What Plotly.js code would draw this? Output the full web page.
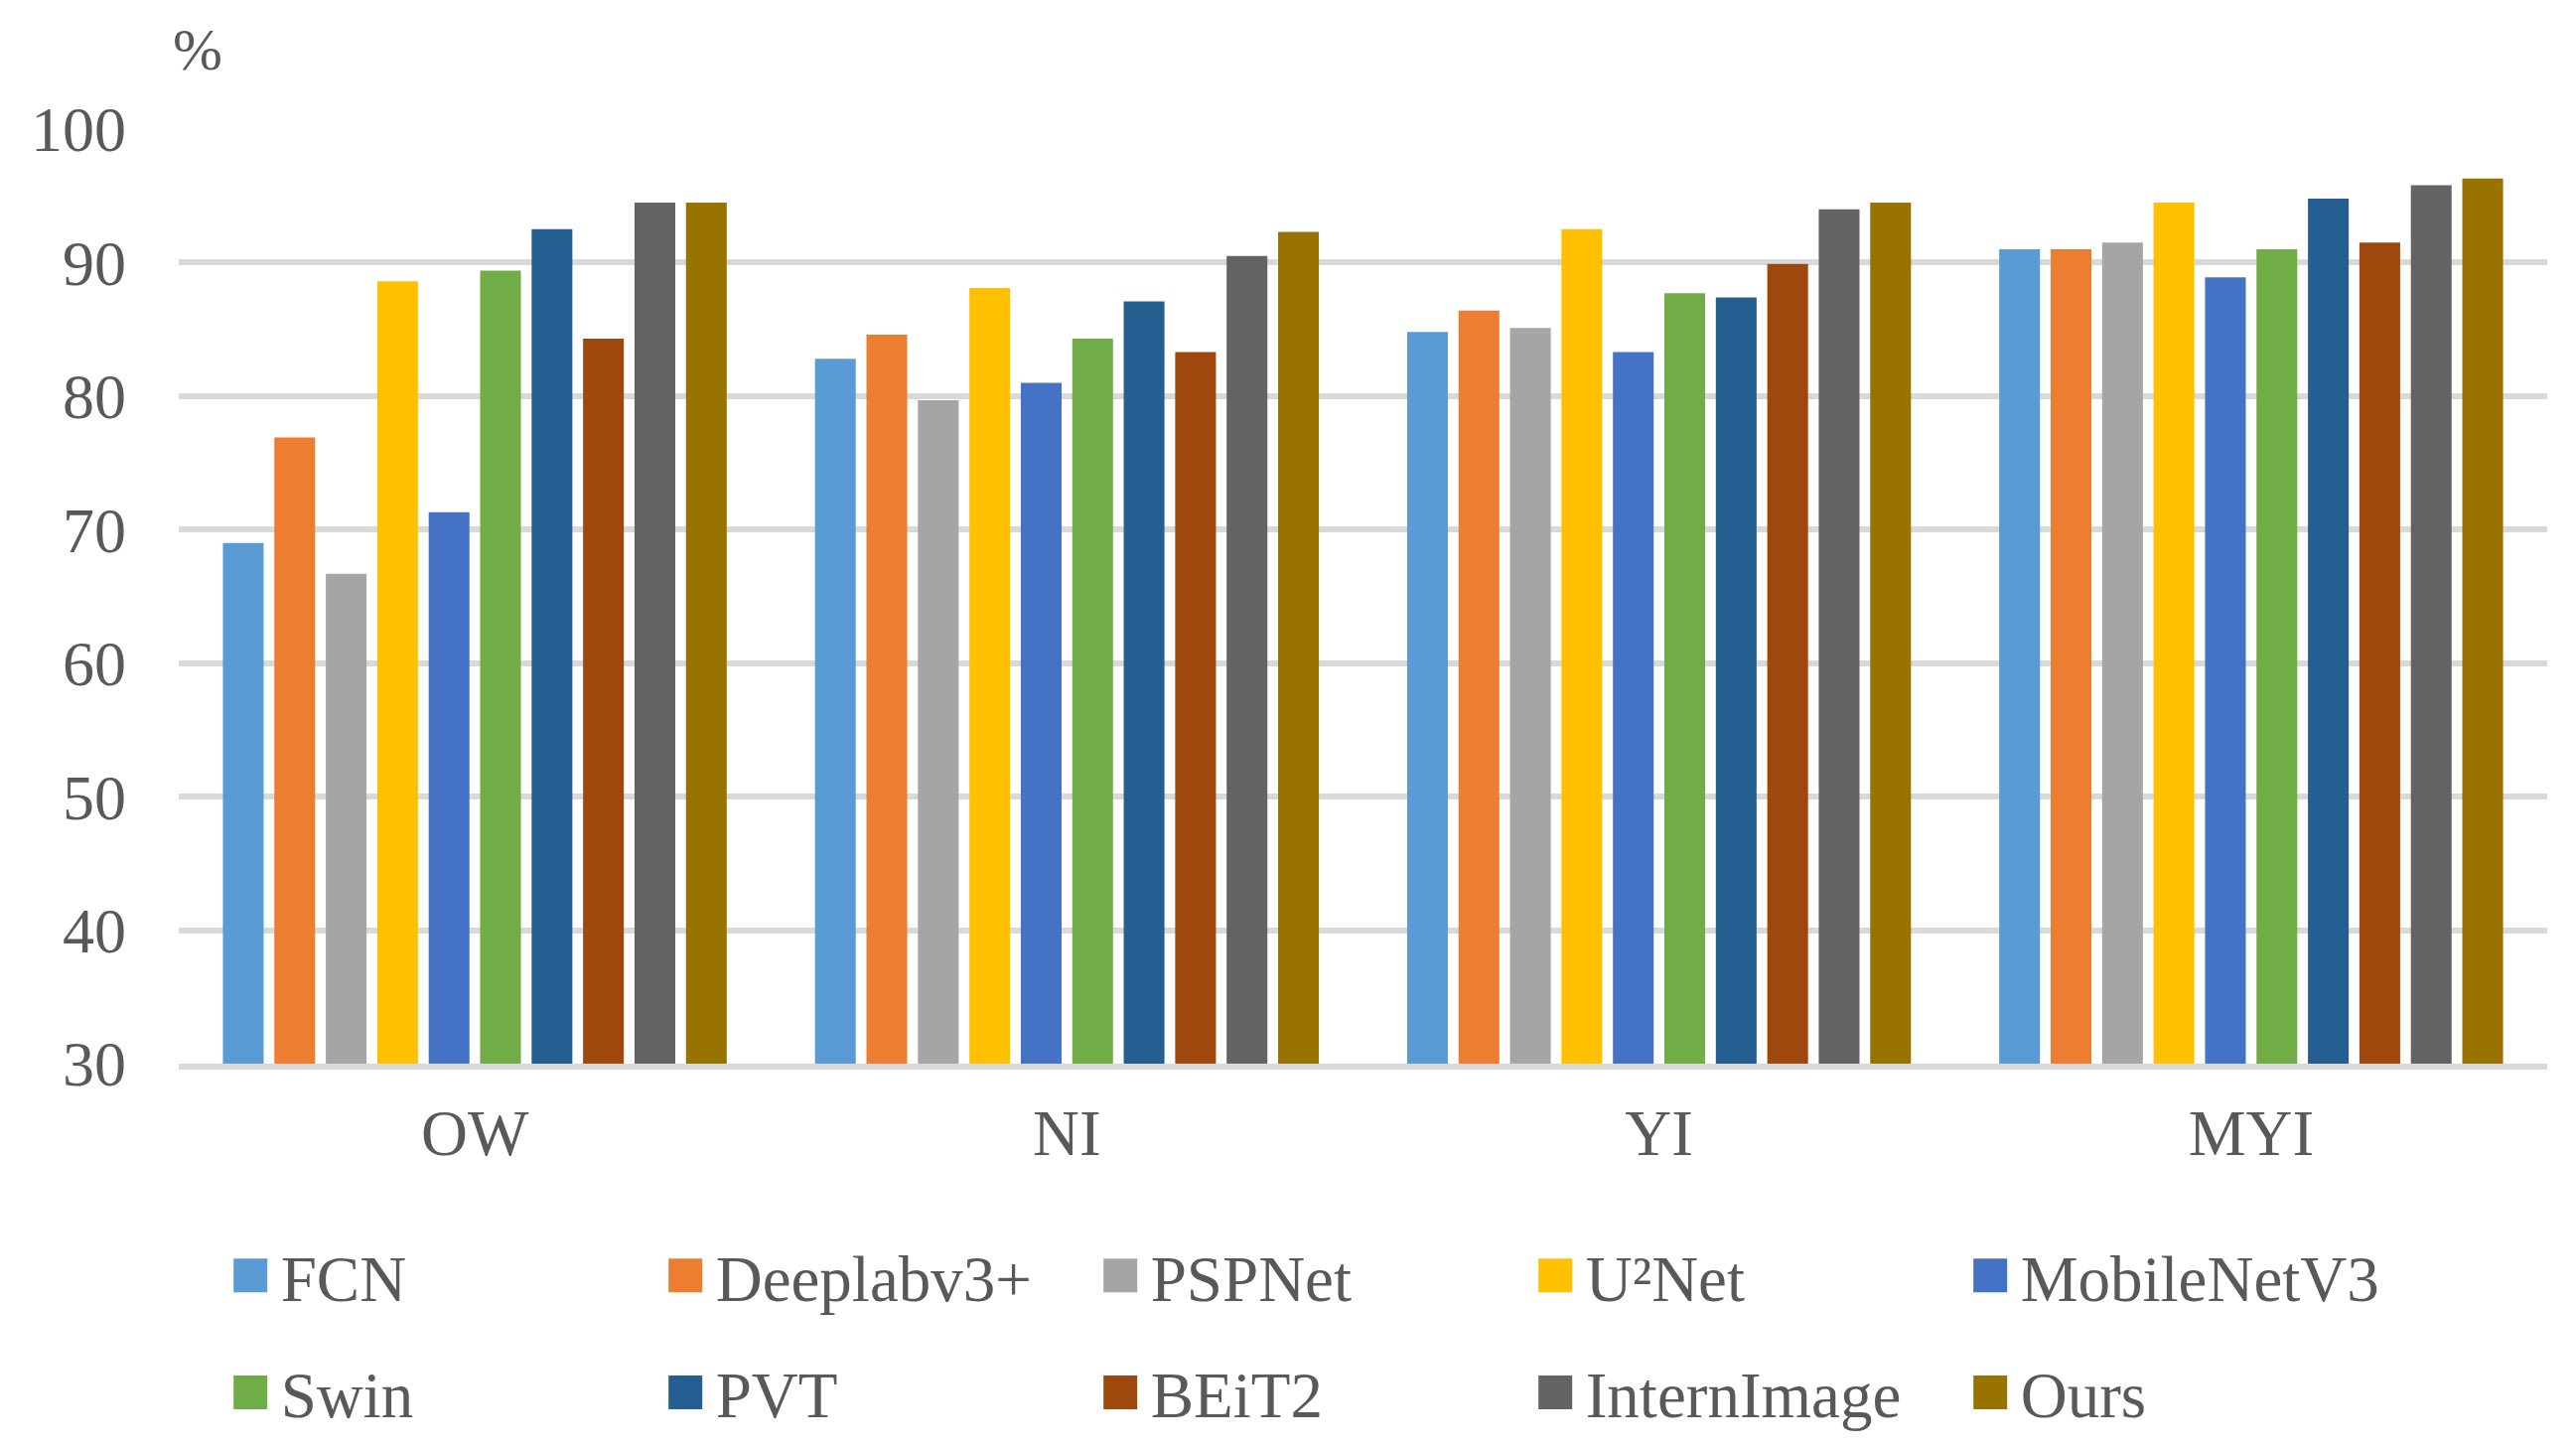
<!DOCTYPE html>
<html>
<head>
<meta charset="utf-8">
<script src="https://cdn.plot.ly/plotly-3.0.1.min.js"></script>
<style>html,body{margin:0;padding:0;background:#fff;}#chart{width:2594px;height:1458px;}</style>
</head>
<body>
<div id="chart"></div>
<script>
// ---- data ----
const categories = ['OW', 'NI', 'YI', 'MYI'];
const seriesNames = ['FCN', 'Deeplabv3+', 'PSPNet', 'U²Net', 'MobileNetV3', 'Swin', 'PVT', 'BEiT2', 'InternImage', 'Ours'];
const FCN         = [69.0, 82.8, 84.8, 91.0];
const Deeplabv3p  = [76.9, 84.6, 86.4, 91.0];
const PSPNet      = [66.7, 79.7, 85.1, 91.5];
const U2Net       = [88.6, 88.1, 92.5, 94.5];
const MobileNetV3 = [71.3, 81.0, 83.3, 88.9];
const Swin        = [89.4, 84.3, 87.7, 91.0];
const PVT         = [92.5, 87.1, 87.4, 94.8];
const BEiT2       = [84.3, 83.3, 89.9, 91.5];
const InternImage = [94.5, 90.5, 94.0, 95.8];
const Ours        = [94.5, 92.3, 94.5, 96.3];
const yTicks = [30, 40, 50, 60, 70, 80, 90, 100];

const seriesValues = [FCN, Deeplabv3p, PSPNet, U2Net, MobileNetV3, Swin, PVT, BEiT2, InternImage, Ours];
const colors = ['#5B9BD5', '#ED7D31', '#A5A5A5', '#FFC000', '#4472C4', '#70AD47', '#255E91', '#9E480E', '#636363', '#997300'];

const FONT = 'Liberation Serif, Times New Roman, serif';
const TXT = '#595959';

const traces = seriesNames.map((name, i) => ({
  type: 'bar',
  name: name,
  x: categories,
  y: seriesValues[i],
  marker: {color: colors[i], line: {width: 0}},
  legend: i < 5 ? 'legend' : 'legend2',
  hoverinfo: 'name+y'
}));

const legendCommon = {
  orientation: 'h',
  font: {family: FONT, size: 65, color: TXT},
  bgcolor: 'rgba(0,0,0,0)',
  entrywidth: 378,
  entrywidthmode: 'pixels',
  itemwidth: 45,
  itemclick: false,
  itemdoubleclick: false,
  traceorder: 'normal',
  xanchor: 'left',
  yanchor: 'middle',
  x: 0.020
};

const layout = {
  width: 2594,
  height: 1458,
  margin: {l: 180, r: 29, t: 129.5, b: 387, autoexpand: false},
  paper_bgcolor: '#ffffff',
  plot_bgcolor: '#ffffff',
  barmode: 'group',
  bargap: 0.131,
  bargroupgap: 0.208,
  font: {family: FONT, color: TXT, size: 65},
  showlegend: true,
  legend: Object.assign({}, legendCommon, {y: -0.227}),
  legend2: Object.assign({}, legendCommon, {y: -0.352}),
  xaxis: {
    type: 'category',
    categoryorder: 'array',
    categoryarray: categories,
    showgrid: false,
    zeroline: false,
    showline: true,
    linecolor: '#D9D9D9',
    linewidth: 6,
    ticks: '',
    tickfont: {family: FONT, size: 65, color: TXT},
    ticklabelstandoff: 8
  },
  yaxis: {
    range: [30, 100],
    tickmode: 'array',
    tickvals: yTicks,
    ticktext: yTicks.map(String),
    showgrid: true,
    gridcolor: '#D9D9D9',
    gridwidth: 6,
    zeroline: false,
    showline: false,
    ticks: '',
    tickfont: {family: FONT, size: 64, color: TXT},
    ticklabelstandoff: 52
  },
  annotations: [{
    text: '%',
    xref: 'paper', yref: 'paper',
    x: 0, y: 1,
    xanchor: 'left', yanchor: 'middle',
    xshift: -8, yshift: 80,
    showarrow: false,
    font: {family: FONT, size: 60, color: TXT}
  }]
};

function enlargeSwatches() {
  document.querySelectorAll('#chart .legendpoints path').forEach(p => {
    p.setAttribute('d', 'M17,17H-17V-17H17Z');
    p.setAttribute('transform', 'translate(24.5,0)');
  });
}

const gd = document.getElementById('chart');
Plotly.newPlot(gd, traces, layout, {displayModeBar: false}).then(() => {
  enlargeSwatches();
  gd.on('plotly_afterplot', enlargeSwatches);
  requestAnimationFrame(enlargeSwatches);
  setTimeout(enlargeSwatches, 200);
});
</script>
</body>
</html>
